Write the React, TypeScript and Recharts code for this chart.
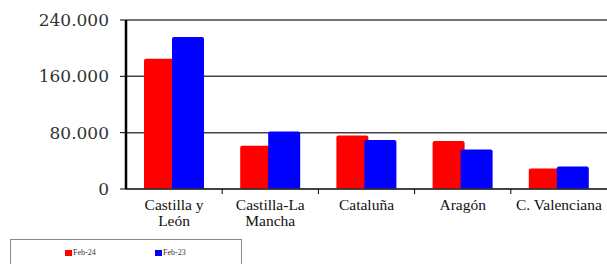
import React from "react";
import { BarChart, Bar, XAxis, YAxis, CartesianGrid, Legend } from "recharts";

const categories = ["Castilla y León", "Castilla-La Mancha", "Cataluña", "Aragón", "C. Valenciana"];
const categoryLines = [["Castilla y", "León"], ["Castilla-La", "Mancha"], ["Cataluña"], ["Aragón"], ["C. Valenciana"]];
const feb24 = [185000, 61500, 76000, 68000, 29000];
const feb23 = [216000, 81500, 69500, 56000, 32000];
const yTicks = [0, 80000, 160000, 240000];
const seriesNames = ["Feb-24", "Feb-23"];
const seriesColors = ["#ff0000", "#0000ff"];

const data = categories.map((c, i) => ({ name: c, lines: categoryLines[i], a: feb24[i], b: feb23[i] }));

const fmt = (v: number) => v.toLocaleString("de-DE");

const XTick = (props: any) => {
  const { x, y, payload, index } = props;
  const lines = categoryLines[index] || [payload.value];
  const band = 481 / categories.length;
  return (
    <g>
      {index > 0 && (
        <line x1={x - band / 2} x2={x - band / 2} y1={y - 8} y2={y - 3} stroke="#000" strokeWidth={1} />
      )}
      {lines.map((l: string, k: number) => (
        <text
          key={k}
          x={x}
          y={y + 13 + k * 16}
          textAnchor="middle"
          fontFamily="'Liberation Serif', serif"
          fontSize={15.5}
          fill="#111"
        >
          {l}
        </text>
      ))}
    </g>
  );
};

const LegendContent = () => (
  <div style={{ position: "relative", width: "100%", height: "100%" }}>
    {seriesNames.map((n, i) => (
      <div
        key={n}
        style={{
          position: "absolute",
          left: i === 0 ? 54 : 144,
          top: 8,
          display: "flex",
          alignItems: "center",
          fontFamily: "'Liberation Serif', serif",
          fontSize: 8,
          color: "#333",
        }}
      >
        <span style={{ display: "inline-block", width: 7, height: 6, background: seriesColors[i], marginRight: 1 }} />
        {n}
      </div>
    ))}
  </div>
);

export default function App() {
  return (
    <div style={{ position: "absolute", left: 0, top: 0, width: 607, height: 264, background: "#fff" }}>
      <BarChart
        width={607}
        height={264}
        data={data}
        margin={{ top: 20, right: 0, left: 0, bottom: 0 }}
        barSize={32}
        barGap={-4}
      >
        <CartesianGrid vertical={false} stroke="#444" strokeWidth={1.5} />
        <XAxis
          dataKey="name"
          height={50}
          tick={<XTick />}
          tickLine={false}
          axisLine={{ stroke: "#333", strokeWidth: 1.5 }}
          interval={0}
        />
        <YAxis
          width={126}
          domain={[0, 240000]}
          ticks={yTicks}
          tickFormatter={fmt}
          tickSize={6}
          tickMargin={11}
          tickLine={{ stroke: "#000" }}
          axisLine={{ stroke: "#000", strokeWidth: 2.5 }}
          tick={{ fontFamily: "'DejaVu Serif', serif", fontSize: 17, fill: "#333" }}
          interval={0}
        />
        <Legend
          verticalAlign="bottom"
          align="left"
          content={<LegendContent />}
          wrapperStyle={{
            left: 10,
            width: 232,
            height: 25,
            boxSizing: "border-box",
            border: "1px solid #888",
            borderBottom: "none",
          }}
        />
        <Bar dataKey="a" name={seriesNames[0]} fill={seriesColors[0]} isAnimationActive={false} radius={[2, 2, 0, 0]} />
        <Bar dataKey="b" name={seriesNames[1]} fill={seriesColors[1]} isAnimationActive={false} radius={[2, 2, 0, 0]} />
      </BarChart>
    </div>
  );
}
